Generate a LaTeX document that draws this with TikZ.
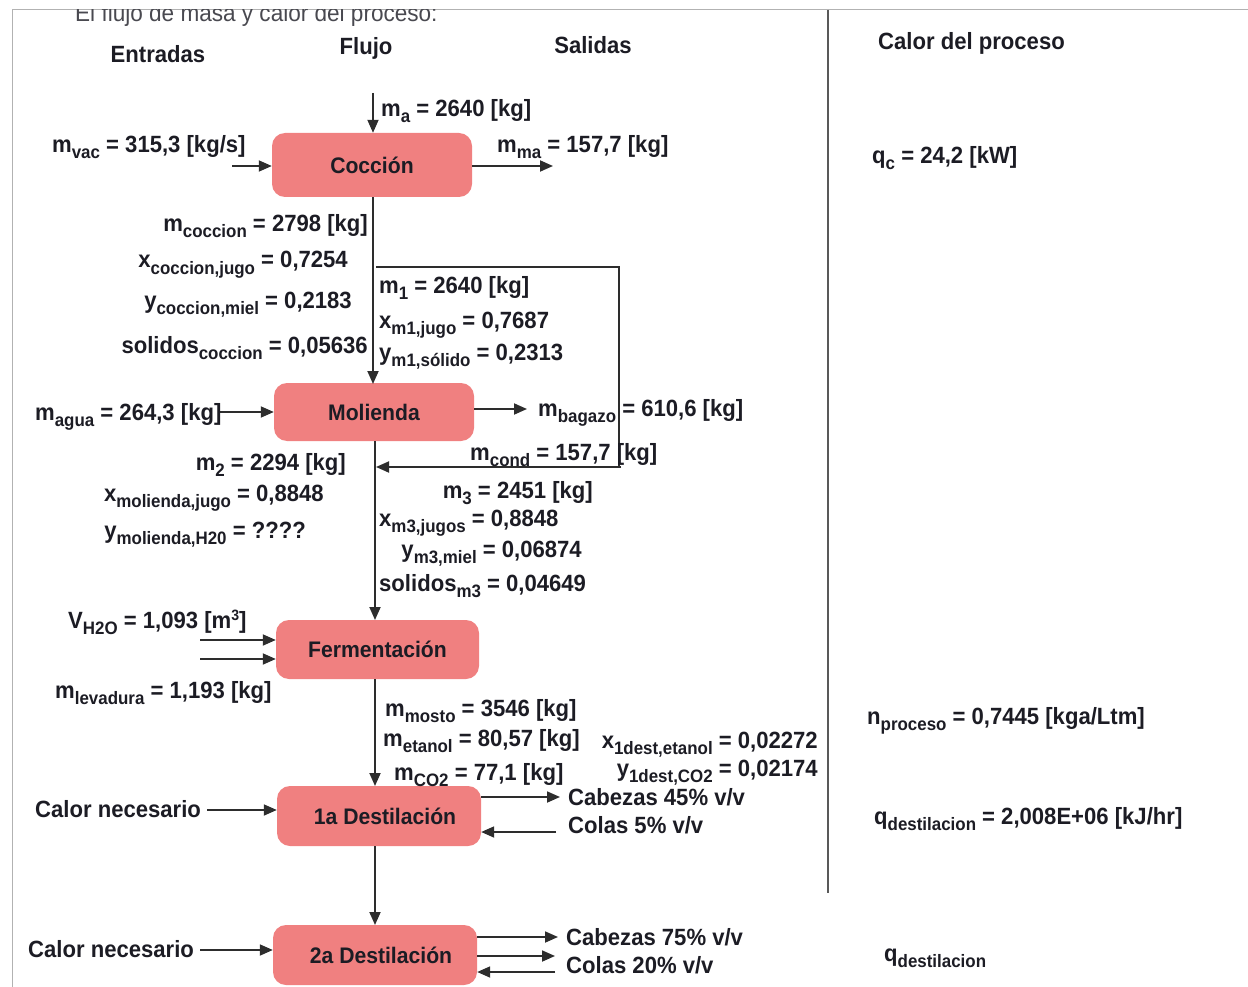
\documentclass[tikz,border=0pt]{standalone}
\usepackage{fontspec}
\setmainfont{Liberation Sans}[FakeStretch=0.94]
\usetikzlibrary{arrows.meta}
\definecolor{boxfill}{RGB}{240,128,128}
\definecolor{ink}{RGB}{28,28,36}
\definecolor{linec}{RGB}{45,45,45}
\newcommand\subt[1]{\raisebox{-6pt}{\fontsize{18}{18}\selectfont #1}}
\newcommand\supt[1]{\raisebox{8pt}{\fontsize{15}{15}\selectfont #1}}
\tikzset{
  lbl/.style={inner sep=0pt,font=\fontsize{23.5}{25}\selectfont\bfseries,text=ink},
  hdr/.style={inner sep=0pt,font=\fontsize{23.5}{25}\selectfont\bfseries,text=ink},
  proc/.style={rounded corners=13pt,fill=boxfill,inner sep=0pt,font=\fontsize{22.5}{25}\selectfont\bfseries,text=ink},
  flow/.style={draw=linec,line width=1.8pt,-{Triangle[length=13pt,width=11pt]}},
  pline/.style={draw=linec,line width=1.8pt},
}
\begin{document}
\begin{tikzpicture}[x=1pt,y=-1pt]
\useasboundingbox (0,0) rectangle (1248,987);
\fill[white] (0,0) rectangle (1248,987);
% frame
\draw[black!30,line width=1pt] (12,987) -- (12,10) -- (1248,10);
% title clipped at the frame
\begin{scope}
\clip (12,10) rectangle (1248,987);
\node[inner sep=0pt,anchor=base west,font=\fontsize{24}{26}\selectfont,text=ink!80] (title) at (75,22) {El flujo de masa y calor del proceso:};
\end{scope}
% separator
\draw[black!65,line width=2.6pt] (828,10) -- (828,893);
% headers
\node[hdr] (hEnt) at (158,54) {Entradas};
\node[hdr] (hFlu) at (366,48) {Flujo};
\node[hdr] (hSal) at (593,45) {Salidas};
\node[hdr,anchor=west] (hCal) at (878,43) {Calor del proceso};
% process boxes
\node[proc,minimum width=200pt,minimum height=64pt] (coc) at (372,165) {Cocci\'on};
\node[proc,minimum width=200pt,minimum height=58pt] (mol) at (374,412) {Molienda};
\node[proc,minimum width=203pt,minimum height=59pt] (fer) at (377.5,649.5) {Fermentaci\'on};
\node[proc,minimum width=204pt,minimum height=60pt] (d1) at (379,816) {\hspace*{12pt}1a Destilaci\'on};
\node[proc,minimum width=204pt,minimum height=60pt] (d2) at (375,955) {\hspace*{12pt}2a Destilaci\'on};
% coordinates for free ends
\coordinate (aTop) at (373,93);
\coordinate (vacS) at (232,166);
\coordinate (maE) at (553,166);
\coordinate (aguaS) at (218,412);
\coordinate (bagE) at (527,409);
\coordinate (loopA) at (376,267);
\coordinate (loopB) at (619,267);
\coordinate (loopC) at (619,467);
\coordinate (loopD) at (376,467);
\coordinate (h2oS) at (200,640);
\coordinate (levS) at (200,659);
\coordinate (c1S) at (207,810);
\coordinate (cab1E) at (560,797);
\coordinate (col1S) at (556,832);
\coordinate (c2S) at (200,950);
\coordinate (cab2E) at (558,937);
\coordinate (col2E) at (555,956);
\coordinate (col2S) at (555,972);
% connectors
\draw[flow] (aTop) -- (aTop |- coc.north);
\draw[flow] (vacS) -- (vacS -| coc.west);
\draw[flow] (maE -| coc.east) -- (maE);
\draw[flow] (coc.south -| 373,0) -- (373,384);
\draw[pline] (loopA) -- (loopB) -- (loopC) -- ([xshift=2pt]loopC);
\draw[flow] ([xshift=2pt]loopC) -- (loopD);
\draw[flow] (aguaS) -- (aguaS -| mol.west);
\draw[flow] (bagE -| mol.east) -- (bagE);
\draw[flow] (375,441) -- (375,620);
\draw[flow] (h2oS) -- (h2oS -| fer.west);
\draw[flow] (levS) -- (levS -| fer.west);
\draw[flow] (375,679) -- (375,786);
\draw[flow] (c1S) -- (c1S -| d1.west);
\draw[flow] (cab1E -| d1.east) -- (cab1E);
\draw[flow] (col1S) -- (col1S -| d1.east);
\draw[flow] (375,846) -- (375,925);
\draw[flow] (c2S) -- (c2S -| d2.west);
\draw[flow] (cab2E -| d2.east) -- (cab2E);
\draw[flow] (col2E -| d2.east) -- (col2E);
\draw[flow] (col2S) -- (col2S -| d2.east);
% labels
\node[lbl,anchor=base west] (lma) at (381,117) {m\subt{a} = 2640 [kg]};
\node[lbl,anchor=base west] (lvac) at (52,153) {m\subt{vac} = 315,3 [kg/s]};
\node[lbl,anchor=base west] (lmma) at (497,153) {m\subt{ma} = 157,7 [kg]};
\node[lbl,anchor=base east] (lmc) at (368,232) {m\subt{coccion} = 2798 [kg]};
\node[lbl,anchor=base east] (lxc) at (348,268) {x\subt{coccion,jugo} = 0,7254};
\node[lbl,anchor=base east] (lyc) at (352,308) {y\subt{coccion,miel} = 0,2183};
\node[lbl,anchor=base east] (lsc) at (368,353) {solidos\subt{coccion} = 0,05636};
\node[lbl,anchor=base west] (lm1) at (379,293) {m\subt{1} = 2640 [kg]};
\node[lbl,anchor=base west] (lx1) at (379,328) {x\subt{m1,jugo} = 0,7687};
\node[lbl,anchor=base west] (ly1) at (379,360) {y\subt{m1,s\'olido} = 0,2313};
\node[lbl,anchor=base west] (lagua) at (35,420) {m\subt{agua} = 264,3 [kg]};
\node[lbl,anchor=base west] (lbag) at (538,416) {m\subt{bagazo} = 610,6 [kg]};
\node[lbl,anchor=base west] (lcond) at (470,460) {m\subt{cond} = 157,7 [kg]};
\node[lbl,anchor=base east] (lm2) at (346,470) {m\subt{2} = 2294 [kg]};
\node[lbl,anchor=base east] (lxm) at (324,501) {x\subt{molienda,jugo} = 0,8848};
\node[lbl,anchor=base east] (lym) at (306,538) {y\subt{molienda,H20} = ????};
\node[lbl,anchor=base east] (lm3) at (593,498) {m\subt{3} = 2451 [kg]};
\node[lbl,anchor=base west] (lx3) at (379,526) {x\subt{m3,jugos} = 0,8848};
\node[lbl,anchor=base east] (ly3) at (582,557) {y\subt{m3,miel} = 0,06874};
\node[lbl,anchor=base west] (ls3) at (379,591) {solidos\subt{m3} = 0,04649};
\node[lbl,anchor=base west] (lvh) at (68,628) {V\subt{H2O} = 1,093 [m\supt{3}]};
\node[lbl,anchor=base west] (llev) at (55,698) {m\subt{levadura} = 1,193 [kg]};
\node[lbl,anchor=base west] (lmos) at (385,716) {m\subt{mosto} = 3546 [kg]};
\node[lbl,anchor=base west] (let) at (383,746) {m\subt{etanol} = 80,57 [kg]};
\node[lbl,anchor=base west] (lco2) at (394,780) {m\subt{CO2} = 77,1 [kg]};
\node[lbl,anchor=base east] (lx1d) at (818,748) {x\subt{1dest,etanol} = 0,02272};
\node[lbl,anchor=base east] (ly1d) at (818,776) {y\subt{1dest,CO2} = 0,02174};
\node[lbl,anchor=base west] (lcal1) at (35,817) {Calor necesario};
\node[lbl,anchor=base west] (lcab1) at (568,805) {Cabezas 45\% v/v};
\node[lbl,anchor=base west] (lcol1) at (568,833) {Colas 5\% v/v};
\node[lbl,anchor=base west] (lcal2) at (28,957) {Calor necesario};
\node[lbl,anchor=base west] (lcab2) at (566,945) {Cabezas 75\% v/v};
\node[lbl,anchor=base west] (lcol2) at (566,973) {Colas 20\% v/v};
\node[lbl,anchor=base west] (lqc) at (872,164) {q\subt{c} = 24,2 [kW]};
\node[lbl,anchor=base west] (lnp) at (867,724) {n\subt{proceso} = 0,7445 [kga/Ltm]};
\node[lbl,anchor=base west] (lqd) at (874,824) {q\subt{destilacion} = 2,008E+06 [kJ/hr]};
\node[lbl,anchor=base west] (lqd2) at (884,961) {q\subt{destilacion}};
\end{tikzpicture}
\end{document}
